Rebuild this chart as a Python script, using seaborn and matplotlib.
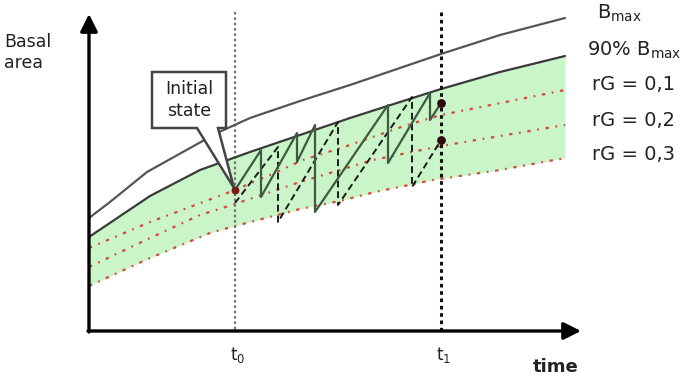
import numpy as np
import pandas as pd
import matplotlib
matplotlib.use("Agg")
import matplotlib.pyplot as plt
import seaborn as sns
from matplotlib.patches import Polygon

sns.set_theme(style="white")
plt.rcParams['font.family'] = ['DejaVu Sans']
plt.rcParams['mathtext.default'] = 'regular'

# ---- data (diagram units: x = time, y = basal area drawn downward-inverted) ----
bmax_x = [89, 110, 147, 217, 250, 300, 350, 400, 441, 500, 565]
bmax_y = [218, 202, 172, 133, 118, 101, 85, 68, 54, 35, 18]

b90_x = [89, 150, 200, 250, 300, 350, 400, 441, 500, 565]
b90_y = [237, 196, 170, 152, 135, 118, 102, 89, 72, 56]

rg1_x = [89, 150, 235, 270, 303, 350, 407, 441, 565]
rg1_y = [248, 222, 190, 175, 160, 145, 125, 115, 90]

rg2_x = [89, 150, 200, 235, 300, 373, 441, 565]
rg2_y = [267, 238, 215, 204, 182, 160, 146, 125]

rg3_x = [89, 150, 210, 235, 300, 340, 375, 433, 500, 565]
rg3_y = [286, 258, 233, 226, 209, 201, 192, 180, 170, 158]

# solid harvest trajectory
solid_x = [235, 261, 261, 297, 297, 315, 315, 388, 388, 430, 430, 441]
solid_y = [190, 150, 197, 133, 162, 125, 212, 105, 163, 93, 120, 103]

# dashed harvest trajectory
dash_x = [235, 278, 278, 338, 338, 412, 412, 441]
dash_y = [203, 147, 222, 122, 205, 97, 187, 140]

t_pos = [235, 441]
t_labels = ["t$_0$", "t$_1$"]

right_labels = ["B$_{max}$", "90% B$_{max}$", "rG = 0,1", "rG = 0,2", "rG = 0,3"]
right_label_x = [597, 587, 592, 592, 592]
right_label_y = [13, 50, 85, 120, 155]

# ---- figure ----
fig = plt.figure(figsize=(6.9, 3.82), dpi=100)
ax = fig.add_axes([0, 0, 1, 1])
ax.set_xlim(0, 690)
ax.set_ylim(382, 0)
ax.axis('off')

# green band between 90% Bmax and rG = 0,3
xf = np.linspace(89, 565, 300)
top = np.interp(xf, b90_x, b90_y)
bot = np.interp(xf, rg3_x, rg3_y)
ax.fill_between(xf, top, bot, color='#c9f5c9', lw=0, zorder=1)

# red rG curves
for xs, ys in [(rg1_x, rg1_y), (rg2_x, rg2_y), (rg3_x, rg3_y)]:
    sns.lineplot(x=xs, y=ys, ax=ax, sort=False, estimator=None, color='#d9473a',
                 lw=1.6, linestyle=(0, (1.5, 3, 0.8, 3)), zorder=2)

# Bmax & 90% Bmax
sns.lineplot(x=bmax_x, y=bmax_y, ax=ax, sort=False, estimator=None, color='#555555', lw=1.6, zorder=3)
sns.lineplot(x=b90_x, y=b90_y, ax=ax, sort=False, estimator=None, color='#3a3a3a', lw=1.6, zorder=3)

# vertical time markers
ax.plot([t_pos[0], t_pos[0]], [12, 331], color='#777777', lw=1.6, linestyle=(0, (1.2, 1.2)), zorder=2)
ax.plot([t_pos[1], t_pos[1]], [12, 331], color='#111111', lw=2.2, linestyle=(0, (1.2, 1.2)), zorder=6)

# trajectories
sns.lineplot(x=dash_x, y=dash_y, ax=ax, sort=False, estimator=None, color='#1a1a1a', lw=1.4,
             linestyle=(0, (3.5, 2)), zorder=4)
sns.lineplot(x=solid_x, y=solid_y, ax=ax, sort=False, estimator=None, color='#3f5a3f', lw=1.6, zorder=5)

# points
ax.scatter([solid_x[0]], [solid_y[0]], s=22, color='#7a1a10', zorder=7)
ax.scatter([solid_x[-1], dash_x[-1]], [solid_y[-1], dash_y[-1]], s=28, color='#2a0a0a', zorder=7)

# axes with arrows
ax.annotate('', xy=(89, 14), xytext=(89, 332),
            arrowprops=dict(arrowstyle='-|>', lw=2.4, color='black', mutation_scale=26,
                            shrinkA=0, shrinkB=0), zorder=8)
ax.annotate('', xy=(581, 331), xytext=(88, 331),
            arrowprops=dict(arrowstyle='-|>', lw=2.4, color='black', mutation_scale=26,
                            shrinkA=0, shrinkB=0), zorder=8)

# callout
callout = Polygon([(152, 72), (226, 72), (226, 128), (218, 128), (234, 188),
                   (197, 128), (152, 128)], closed=True, facecolor='white',
                  edgecolor='#444444', lw=1.8, zorder=9)
ax.add_patch(callout)
ax.text(189, 100, "Initial\nstate", ha='center', va='center', fontsize=12.5,
        color='#222222', linespacing=1.25, zorder=10)

# axis labels
ax.text(4, 33, "Basal\narea", ha='left', va='top', fontsize=12.5, color='#222222', linespacing=1.2)
ax.text(556, 367, "time", ha='center', va='center', fontsize=13, fontweight='bold', color='#222222')
for xp, lab in zip(t_pos, t_labels):
    ax.text(xp + 3, 355, lab, ha='center', va='center', fontsize=12, color='#222222')

for xl, yl, lab in zip(right_label_x, right_label_y, right_labels):
    ax.text(xl, yl, lab, ha='left', va='center', fontsize=14, color='#222222')

fig.savefig("out.png", dpi=100)
